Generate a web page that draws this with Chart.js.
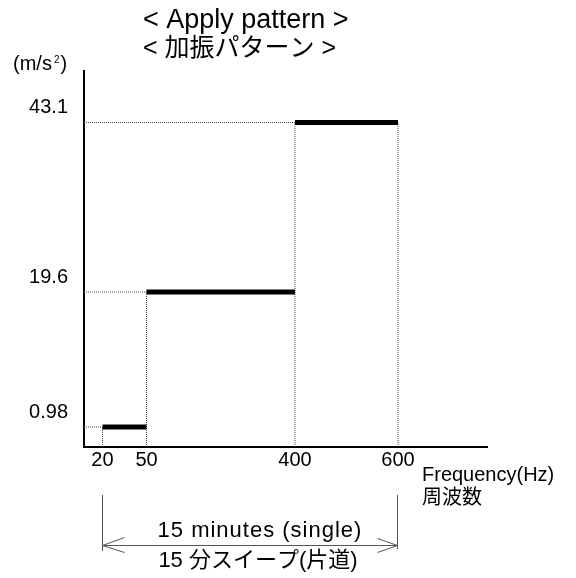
<!DOCTYPE html>
<html><head><meta charset="utf-8">
<script src="https://cdn.jsdelivr.net/npm/chart.js@4.4.1/dist/chart.umd.min.js"></script>
<style>html,body{margin:0;padding:0;background:#fff;}#wrap{width:576px;height:578px;position:relative;}</style>
</head><body><div id="wrap"><canvas id="c" width="576" height="578"></canvas></div>
<script>
// ---- data ----
const bandStartHz = [20, 50, 400];
const bandEndHz = [50, 400, 600];
const bandAccel = [0.98, 19.6, 43.1];
const xTickValues = [20, 50, 400, 600];
const xTickLabels = ['20', '50', '400', '600'];
const yTickValues = [0.98, 19.6, 43.1];
const yTickLabels = ['0.98', '19.6', '43.1'];
const titleLines = ['< Apply pattern >', '< 加振パターン >'];
const xAxisTitle = ['Frequency(Hz)', '周波数'];
const yUnitParts = ['(m/s', '2', ')'];
const sweepText = ['15 minutes (single)', '15 分スイープ(片道)'];
const sweepRangeHz = [20, 600];

const FONT = "'Liberation Sans', Arial, 'Noto Sans CJK JP', sans-serif";

// ---- schematic (piecewise-linear) scale ----
class PiecewiseScale extends Chart.LinearScale {
  static id = 'piecewise';
  static defaults = {};
  _toDecimal(v) {
    const bv = this.options.breakValues, bf = this.options.breakFractions;
    if (v <= bv[0]) return bf[0];
    for (let i = 1; i < bv.length; i++) {
      if (v <= bv[i]) return bf[i-1] + (v - bv[i-1]) / (bv[i] - bv[i-1]) * (bf[i] - bf[i-1]);
    }
    return bf[bf.length - 1];
  }
  getPixelForValue(value) {
    if (value === null || value === undefined || isNaN(value)) return NaN;
    return this.getPixelForDecimal(this._toDecimal(value));
  }
  getValueForPixel(pixel) {
    const d = this.getDecimalForPixel(pixel);
    const bv = this.options.breakValues, bf = this.options.breakFractions;
    for (let i = 1; i < bf.length; i++) {
      if (d <= bf[i]) return bv[i-1] + (d - bf[i-1]) / (bf[i] - bf[i-1]) * (bv[i] - bv[i-1]);
    }
    return bv[bv.length - 1];
  }
}
Chart.register(PiecewiseScale);

// ---- build datasets from the arrays ----
const stepData = [];
bandAccel.forEach((a, i) => {
  stepData.push({x: bandStartHz[i], y: a}, {x: bandEndHz[i], y: a}, {x: bandEndHz[i], y: null});
});
const guideData = [];
bandAccel.forEach((a, i) => {
  guideData.push({x: 0, y: a}, {x: bandStartHz[i], y: a}, {x: bandStartHz[i], y: null});
});
xTickValues.forEach(f => {
  let top = 0;
  bandAccel.forEach((a, i) => { if (bandStartHz[i] === f || bandEndHz[i] === f) top = Math.max(top, a); });
  guideData.push({x: f, y: 0}, {x: f, y: top}, {x: f, y: null});
});

const annotations = {
  id: 'annotations',
  afterDraw(chart) {
    const ctx = chart.ctx;
    const xs = chart.scales.x;
    ctx.save();
    ctx.fillStyle = '#000';
    ctx.textBaseline = 'alphabetic';
    // title
    ctx.textAlign = 'left';
    ctx.font = '27px ' + FONT;
    ctx.fillText(titleLines[0], 143, 28);
    ctx.font = '25px ' + FONT;
    ctx.fillText(titleLines[1], 143, 56);
    // unit
    ctx.font = '20px ' + FONT;
    let x = 13;
    ctx.fillText(yUnitParts[0], x, 70);
    x += ctx.measureText(yUnitParts[0]).width + 2;
    ctx.font = '10px ' + FONT;
    ctx.fillText(yUnitParts[1], x, 63);
    x += ctx.measureText(yUnitParts[1]).width + 1;
    ctx.font = '20px ' + FONT;
    ctx.fillText(yUnitParts[2], x, 70);
    // x axis title
    ctx.fillText(xAxisTitle[0], 422, 481);
    ctx.fillText(xAxisTitle[1], 422, 504);
    // sweep bracket
    const x0 = Math.round(xs.getPixelForValue(sweepRangeHz[0])) + 0.5;
    const x1 = Math.round(xs.getPixelForValue(sweepRangeHz[1])) - 0.5;
    const ya = 545.5;
    ctx.strokeStyle = '#555';
    ctx.lineWidth = 1;
    ctx.beginPath();
    ctx.moveTo(x0, 495); ctx.lineTo(x0, 551);
    ctx.moveTo(x1, 495); ctx.lineTo(x1, 549);
    ctx.moveTo(x0, ya); ctx.lineTo(x1, ya);
    ctx.moveTo(x0 + 22, ya - 8); ctx.lineTo(x0, ya); ctx.lineTo(x0 + 22, ya + 7);
    ctx.moveTo(x1 - 20, ya - 7); ctx.lineTo(x1, ya); ctx.lineTo(x1 - 20, ya + 7);
    ctx.stroke();
    const cx = (x0 + x1) / 2 + 8;
    ctx.textAlign = 'center';
    ctx.fillStyle = '#000';
    ctx.font = '22px ' + FONT;
    if ('letterSpacing' in ctx) ctx.letterSpacing = '1px';
    ctx.fillText(sweepText[0], cx + 2, 537);
    if ('letterSpacing' in ctx) ctx.letterSpacing = '0px';
    ctx.fillText(sweepText[1], cx, 567);
    ctx.restore();
  }
};

new Chart(document.getElementById('c'), {
  type: 'line',
  data: {
    datasets: [
      {data: stepData, borderColor: '#000', borderWidth: 5, pointRadius: 0, spanGaps: false, order: 1, borderCapStyle: 'butt'},
      {data: guideData, borderColor: '#444', borderWidth: 1, borderDash: [1, 1], pointRadius: 0, spanGaps: false, order: 2}
    ]
  },
  options: {
    responsive: false,
    animation: false,
    devicePixelRatio: 1,
    layout: {padding: {left: 0, top: 71, right: 89, bottom: 0}},
    plugins: {legend: {display: false}, tooltip: {enabled: false}, title: {display: false}},
    scales: {
      x: {
        type: 'piecewise',
        min: 0, max: 800,
        breakValues: [0, 20, 50, 400, 600, 800],
        breakFractions: [0, 0.0459, 0.1551, 0.5236, 0.7792, 1],
        afterBuildTicks: s => { s.ticks = xTickValues.map(v => ({value: v})); },
        afterFit: s => { s.height = 131; },
        grid: {display: false, drawTicks: false},
        border: {display: true, color: '#000', width: 2},
        ticks: {
          autoSkip: false, maxRotation: 0, padding: 1, color: '#000',
          font: {family: FONT, size: 20},
          callback: v => xTickLabels[xTickValues.indexOf(v)]
        }
      },
      y: {
        type: 'piecewise',
        min: 0, max: 50,
        breakValues: [0, 0.98, 19.6, 43.1, 50],
        breakFractions: [0, 0.0532, 0.4122, 0.8630, 1],
        afterBuildTicks: s => { s.ticks = yTickValues.map(v => ({value: v})); },
        afterFit: s => { s.width = 84; },
        grid: {display: false, drawTicks: false},
        border: {display: true, color: '#000', width: 2},
        ticks: {
          autoSkip: false, padding: 16, labelOffset: -15, color: '#000',
          font: {family: FONT, size: 20},
          callback: v => yTickLabels[yTickValues.indexOf(v)]
        }
      }
    }
  },
  plugins: [annotations]
});
</script>
</body></html>
